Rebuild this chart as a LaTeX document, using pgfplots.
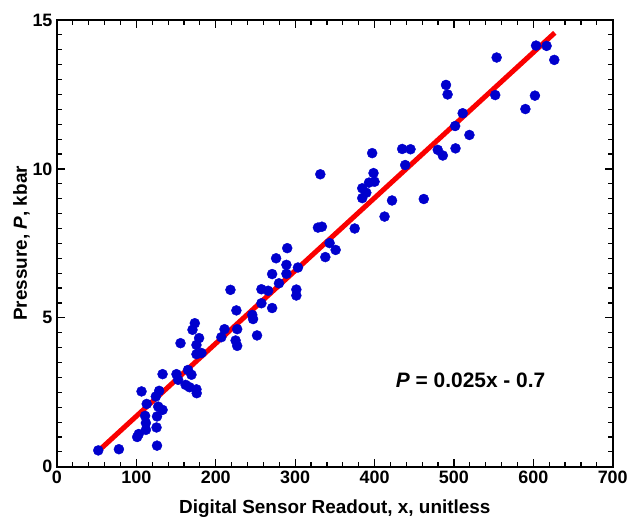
\documentclass[border=0pt]{standalone}
\usepackage{pgfplots}
\pgfplotsset{compat=1.18}
\usepackage{fontspec}
\setmainfont{Liberation Sans}
\definecolor{dotblue}{RGB}{0,0,205}
\definecolor{fitred}{RGB}{250,0,0}
\begin{document}
\begin{tikzpicture}
\begin{axis}[
  scale only axis,
  width=556bp, height=447bp,
  xmin=0, xmax=700, ymin=0, ymax=15,
  xtick={0,100,...,700}, ytick={0,5,10,15},
  minor x tick num=4, minor y tick num=9,
  tick align=inside,
  major tick length=8bp, minor tick length=5bp,
  every tick/.style={black, line width=1.2pt},
  axis line style={line width=1.6pt},
  tick label style={font=\fontsize{18}{21}\selectfont\bfseries},
  xticklabel style={yshift=-1bp},
  yticklabel style={xshift=-1bp},
  /pgf/number format/assume math mode=true,
  xlabel={Digital Sensor Readout, x, unitless},
  ylabel={Pressure, \textit{P}, kbar},
  label style={font=\fontsize{19}{23}\selectfont\bfseries},
  xlabel style={at={(axis description cs:0.5,-0.105)}, anchor=base},
  ylabel style={at={(axis description cs:-0.054,0.5)}, anchor=base},
  clip=false,
]
\addplot[fitred, line width=5bp, no marks] coordinates {(55,0.6) (627,14.57)};
\addplot[only marks, mark=*, mark size=5bp, dotblue, mark options={draw=dotblue, fill=dotblue}] coordinates {
(52,0.55) (78,0.59) (101,1.0) (103,1.1) (112,1.24) (112,1.47) (111,1.71) (113,2.11)
(106.5,2.53) (126,0.71) (125.4,1.32) (126,1.69) (127.5,2.02) (133,1.91) (124.5,2.36)
(128.7,2.55) (133,3.11) (150.5,3.11) (152.6,2.92) (162,2.75) (167,2.67) (175.7,2.6) (176,2.47)
(155.6,4.15) (165,3.25) (169.4,3.09) (173.6,4.82) (170.7,4.6) (179,4.32) (175.7,4.09)
(175.7,3.78) (182,3.82) (207,4.35) (211,4.62) (227,4.62) (225,4.24) (227,4.06)
(218.5,5.94) (226,5.25) (246,5.10) (247,4.96) (252,4.41) (257.5,5.49) (257.5,5.96)
(266,5.91) (271,5.33) (271,6.47) (279.6,6.16) (276,7.0) (289,6.48) (289,6.78) (290,7.34)
(303.5,6.69) (301.5,5.95) (301.5,5.75) (331.7,9.82) (328.7,8.03) (333.7,8.06)
(343.4,7.51) (351,7.28) (338,7.04) (375,8.0) (384.5,9.35) (389.6,9.2) (384.5,9.02)
(393,9.54) (400,9.57) (398.7,9.86) (397,10.53) (412.6,8.4) (422,8.94) (434.8,10.67)
(445.3,10.66) (438.6,10.13) (462,8.99) (479.6,10.64) (486,10.45) (490,12.82) (492,12.5)
(501.5,11.44) (502,10.69) (511,11.87) (519.5,11.14) (552,12.48) (553.8,13.74)
(590,12.01) (602,12.46) (603.4,14.14) (616.7,14.13) (626.4,13.66)
};
\node[font=\fontsize{21}{25}\selectfont\bfseries] at (axis cs:521,2.92) {\textit{P} = 0.025x - 0.7};
\end{axis}
\path (current axis.south west) ++(-57bp,-52bp) rectangle ([shift={(18bp,20bp)}]current axis.north east);
\end{tikzpicture}
\end{document}
